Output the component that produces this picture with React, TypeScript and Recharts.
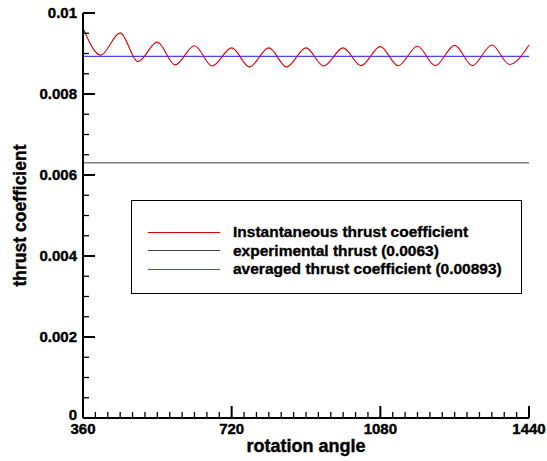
import { LineChart, Line, XAxis, YAxis, ReferenceLine, Legend, Label } from "recharts";

const FONT = '"Liberation Sans", Arial, Helvetica, sans-serif';

// rotation angle (deg) at peaks / troughs of the thrust signal
const ANGLES = [
  360, 403, 450, 493, 540, 583, 630, 673, 720, 763, 810, 853, 900,
  943, 990, 1033, 1080, 1123, 1170, 1213, 1260, 1303, 1350, 1393, 1440,
];
const THRUST = [
  0.00963, 0.00896, 0.00951, 0.0088, 0.00928, 0.00872, 0.00919, 0.00869, 0.00914,
  0.00867, 0.00914, 0.00867, 0.00914, 0.00869, 0.00914, 0.0087, 0.00917, 0.0087,
  0.00918, 0.0087, 0.0092, 0.0087, 0.00921, 0.00873, 0.00921,
];
const EXPERIMENTAL = 0.0063;
const AVERAGED = 0.00893;

const X_MAJOR = [360, 720, 1080, 1440];
const X_STEP = 30;
const Y_MAJOR = [0, 0.002, 0.004, 0.006, 0.008, 0.01];
const Y_LABELS = ["0", "0.002", "0.004", "0.006", "0.008", "0.01"];
const Y_STEP = 0.0005;

const LEGEND_ITEMS = [
  { name: "Instantaneous thrust coefficient", color: "#e00000" },
  { name: "experimental thrust (0.0063)", color: "#404040" },
  { name: "averaged thrust coefficient (0.00893)", color: "#4646ff" },
];

const data = ANGLES.map((a, i) => ({ angle: a, ct: THRUST[i] }));

const xTicks: number[] = [];
for (let v = X_MAJOR[0]; v <= X_MAJOR[X_MAJOR.length - 1]; v += X_STEP) xTicks.push(v);
const yTicks: number[] = [];
for (let i = 0; i <= 20; i++) yTicks.push(+(i * Y_STEP).toFixed(4));

// heavier look, the reference uses a black helvetica
const textStyle = { fontFamily: FONT, fontWeight: "bold" as const, fill: "#000", stroke: "#000", strokeWidth: 0.4 };

function XTick(props: any) {
  const { x, y, payload } = props;
  const major = X_MAJOR.includes(payload.value);
  return (
    <g>
      <line x1={x} y1={y} x2={x} y2={y - (major ? 12 : 6)} stroke="#000" strokeWidth={major ? 2 : 1.3} />
      {major && (
        <text x={x} y={y + 16} textAnchor="middle" fontSize={15} {...textStyle}>
          {payload.value}
        </text>
      )}
    </g>
  );
}

function YTick(props: any) {
  const { x, y, payload } = props;
  const idx = Y_MAJOR.findIndex((m) => Math.abs(m - payload.value) < 1e-9);
  const major = idx >= 0;
  return (
    <g>
      <line x1={x} y1={y} x2={x + (major ? 12 : 6)} y2={y} stroke="#000" strokeWidth={major ? 2 : 1.3} />
      {major && (
        <text x={x - 6} y={y} dy={idx === 0 ? 2 : 5} textAnchor="end" fontSize={15} {...textStyle}>
          {Y_LABELS[idx]}
        </text>
      )}
    </g>
  );
}

function LegendBox() {
  return (
    <div
      style={{
        width: 391, height: 94, boxSizing: "border-box", border: "1px solid #000",
        background: "#fff", paddingTop: 22, fontFamily: FONT, fontWeight: "bold", fontSize: 15.5,
        WebkitTextStroke: "0.35px #000",
      }}>
      {LEGEND_ITEMS.map((item) => (
        <div key={item.name} style={{ display: "flex", alignItems: "center", height: 18.5, whiteSpace: "nowrap" }}>
          <span style={{ width: 72, marginLeft: 16, marginRight: 13, borderTop: `1px solid ${item.color}` }} />
          <span style={{ color: "#000" }}>{item.name}</span>
        </div>
      ))}
    </div>
  );
}

export default function App() {
  return (
    <div style={{ width: 547, height: 461, background: "#fff" }}>
      <style>{`body{margin:0}`}</style>
      <LineChart width={547} height={461} data={data} margin={{ top: 13, right: 18, left: 0, bottom: 0 }}>
        <XAxis
          dataKey="angle" type="number" domain={[360, 1440]} ticks={xTicks} interval={0}
          height={43} tickSize={0} tickMargin={0} tickLine={false}
          axisLine={{ stroke: "#000", strokeWidth: 2 }} tick={(p: any) => <XTick {...p} />}>
          <Label
            content={(p: any) => {
              const vb = p.viewBox;
              return (
                <text x={vb.x + vb.width / 2} y={vb.y + 34} textAnchor="middle" fontSize={18} {...textStyle}>
                  rotation angle
                </text>
              );
            }}
          />
        </XAxis>
        <YAxis
          type="number" domain={[0, 0.01]} ticks={yTicks} interval={0} width={83}
          tickSize={0} tickMargin={0} tickLine={false} allowDataOverflow
          axisLine={{ stroke: "#000", strokeWidth: 2 }} tick={(p: any) => <YTick {...p} />}>
          <Label
            content={(p: any) => {
              const vb = p.viewBox;
              const cx = 20;
              const cy = vb.y + vb.height / 2;
              return (
                <text x={cx} y={cy} transform={`rotate(-90 ${cx} ${cy})`} dy={6} textAnchor="middle" fontSize={17.5} {...textStyle}>
                  thrust coefficient
                </text>
              );
            }}
          />
        </YAxis>
        <ReferenceLine y={EXPERIMENTAL} stroke="#404040" strokeWidth={1} />
        <ReferenceLine y={AVERAGED} stroke="#4646ff" strokeWidth={1.2} />
        <Line type="monotone" dataKey="ct" stroke="#e00000" strokeWidth={1.1} dot={false} isAnimationActive={false} />
        <Legend
          layout="horizontal" verticalAlign="middle" align="center"
          wrapperStyle={{ position: "absolute", left: 131, top: 200, width: 391, height: 94 }}
          content={() => <LegendBox />}
        />
      </LineChart>
    </div>
  );
}
